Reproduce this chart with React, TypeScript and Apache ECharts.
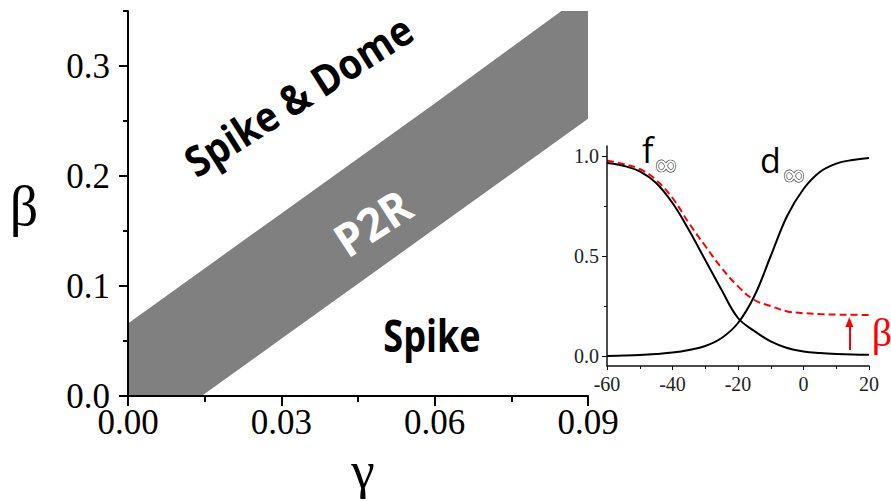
import React, { useEffect, useRef } from "react";
import * as echarts from "echarts";

// Main panel: gamma (x) vs beta (y)
const gammaTicks = [0, 0.03, 0.06, 0.09];
const gammaMinorTicks = [0.015, 0.045, 0.075];
const betaTicks = [0, 0.1, 0.2, 0.3];
const betaMinorTicks = [0.05, 0.15, 0.25, 0.35];

// P2R band boundaries [gamma, beta]
const p2rUpper: [number, number][] = [
  [0, 0.066],
  [0.03, 0.166],
  [0.06, 0.266],
  [0.0848, 0.35],
];
const p2rTopRight: [number, number] = [0.09, 0.35];
const p2rLower: [number, number][] = [
  [0.0144, 0],
  [0.03, 0.052],
  [0.06, 0.152],
  [0.09, 0.252],
];
const p2rOrigin: [number, number] = [0, 0];

// Inset: steady-state curves vs voltage (mV)
const voltage = [-60, -55, -50, -45, -40, -35, -30, -25, -20, -15, -10, -5, 0, 5, 10, 15, 20];
const fInf = [0.965, 0.951, 0.923, 0.865, 0.765, 0.63, 0.48, 0.33, 0.19, 0.125, 0.073, 0.04, 0.023, 0.015, 0.01, 0.007, 0.006];
const dInf = [0.0, 0.002, 0.005, 0.01, 0.017, 0.03, 0.05, 0.09, 0.165, 0.3, 0.5, 0.7, 0.835, 0.92, 0.962, 0.98, 0.99];
const fBeta = [0.978, 0.96, 0.935, 0.88, 0.79, 0.665, 0.55, 0.44, 0.348, 0.28, 0.25, 0.223, 0.215, 0.21, 0.207, 0.206, 0.205];
const insetXRange = [-60, 20];
const insetYRange = [-0.05, 1.05];
const insetYTicks = [0, 0.5, 1];
const insetYMinorTicks = [0.25, 0.75];
const betaArrow = { v: 14, from: 0.03, to: 0.17 };

const SERIF = '"Liberation Serif", "Times New Roman", serif';
const SANS = '"Open Sans", "Noto Sans", sans-serif';

export default function App() {
  const ref = useRef<HTMLDivElement>(null);
  useEffect(() => {
    if (!ref.current) return;
    const chart = echarts.init(ref.current, null, { renderer: "svg" });
    const polygon = [...p2rUpper, p2rTopRight, ...[...p2rLower].reverse(), p2rOrigin];
    const zip = (a: number[], b: number[]) => a.map((v, i) => [v, b[i]]);

    const option: any = {
      animation: false,
      backgroundColor: "#fff",
      grid: [
        { left: 128, right: 303, top: 11, bottom: 105 },
        { left: 607, right: 22, top: 146, bottom: 135 },
      ],
      xAxis: [
        {
          type: "value", gridIndex: 0, min: 0, max: 0.09, position: "bottom", z: 5,
          axisLine: { onZero: false, lineStyle: { color: "#000", width: 2 } },
          axisTick: { customValues: gammaTicks, length: 10, lineStyle: { color: "#000", width: 2 } },
          axisLabel: {
            customValues: gammaTicks, formatter: (v: number) => v.toFixed(2),
            fontFamily: SERIF, fontSize: 35, color: "#000", margin: 9,
          },
          splitLine: { show: false },
        },
        {
          type: "value", gridIndex: 0, min: 0, max: 0.09, position: "bottom", z: 5,
          axisLine: { show: false, onZero: false },
          axisTick: { customValues: gammaMinorTicks, length: 6, lineStyle: { color: "#000", width: 2 } },
          axisLabel: { show: false },
          splitLine: { show: false },
        },
        {
          type: "value", gridIndex: 1, min: insetXRange[0], max: insetXRange[1], interval: 20, position: "bottom", z: 5,
          axisLine: { onZero: false, lineStyle: { color: "#111", width: 1.5 } },
          axisTick: { length: 4, lineStyle: { color: "#111", width: 1 } },
          minorTick: { show: true, splitNumber: 2, length: 3, lineStyle: { color: "#111", width: 1 } },
          axisLabel: { fontFamily: SERIF, fontSize: 20, color: "#222", margin: 8 },
          splitLine: { show: false },
        },
      ],
      yAxis: [
        {
          type: "value", gridIndex: 0, min: 0, max: 0.35, position: "left", z: 5,
          axisLine: { show: true, onZero: false, lineStyle: { color: "#000", width: 2 } },
          axisTick: { show: true, customValues: betaTicks, length: 9, lineStyle: { color: "#000", width: 2 } },
          axisLabel: {
            customValues: betaTicks, formatter: (v: number) => v.toFixed(1),
            fontFamily: SERIF, fontSize: 35, color: "#000", margin: 18,
          },
          splitLine: { show: false },
        },
        {
          type: "value", gridIndex: 0, min: 0, max: 0.35, position: "left", z: 5,
          axisLine: { show: false, onZero: false },
          axisTick: { show: true, customValues: betaMinorTicks, length: 5, lineStyle: { color: "#000", width: 2 } },
          axisLabel: { show: false },
          splitLine: { show: false },
        },
        {
          type: "value", gridIndex: 1, min: insetYRange[0], max: insetYRange[1], position: "left", z: 5,
          axisLine: { show: true, onZero: false, lineStyle: { color: "#111", width: 1.5 } },
          axisTick: { show: true, customValues: insetYTicks, length: 5, lineStyle: { color: "#111", width: 1 } },
          axisLabel: {
            customValues: insetYTicks, formatter: (v: number) => v.toFixed(1),
            fontFamily: SERIF, fontSize: 20, color: "#222", margin: 8,
          },
          splitLine: { show: false },
        },
        {
          type: "value", gridIndex: 1, min: insetYRange[0], max: insetYRange[1], position: "left", z: 5,
          axisLine: { show: false, onZero: false },
          axisTick: { show: true, customValues: insetYMinorTicks, length: 3, lineStyle: { color: "#111", width: 1 } },
          axisLabel: { show: false },
          splitLine: { show: false },
        },
      ],
      series: [
        {
          type: "custom", xAxisIndex: 0, yAxisIndex: 0, silent: true, clip: false, z: 1,
          data: [p2rOrigin],
          renderItem: (_params: any, api: any) => ({
            type: "polygon",
            shape: { points: polygon.map((p) => api.coord(p)) },
            style: { fill: "#808080" },
          }),
        },
        {
          type: "line", xAxisIndex: 2, yAxisIndex: 2, data: zip(voltage, fBeta), smooth: 0.4,
          showSymbol: false, z: 2, clip: false,
          lineStyle: { color: "#ff0000", width: 2, type: [7, 4] },
          markLine: {
            silent: true, symbol: ["none", "triangle"], symbolSize: [8, 10],
            lineStyle: { color: "#ff0000", width: 2, type: "solid" },
            label: { show: false },
            data: [[{ coord: [betaArrow.v, betaArrow.from] }, { coord: [betaArrow.v, betaArrow.to] }]],
          },
        },
        {
          type: "line", xAxisIndex: 2, yAxisIndex: 2, data: zip(voltage, fInf), smooth: 0.4,
          showSymbol: false, z: 3, lineStyle: { color: "#000", width: 2 },
        },
        {
          type: "line", xAxisIndex: 2, yAxisIndex: 2, data: zip(voltage, dInf), smooth: 0.4,
          showSymbol: false, z: 3, lineStyle: { color: "#000", width: 2 },
        },
      ],
      graphic: [
        { type: "text", x: 24, y: 206, style: { text: "β", font: `56px ${SERIF}`, fill: "#000", align: "center", verticalAlign: "middle" } },
        { type: "text", x: 363, y: 470, style: { text: "γ", font: `53px ${SERIF}`, fill: "#000", align: "center", verticalAlign: "middle" } },
        {
          type: "text", x: 298, y: 95, rotation: (32.5 * Math.PI) / 180, scaleX: 0.9, z: 10,
          style: { text: "Spike & Dome", font: `bold 42px ${SANS}`, fill: "#000", align: "center", verticalAlign: "middle" },
        },
        {
          type: "text", x: 372, y: 222, rotation: (33 * Math.PI) / 180, scaleX: 0.95, z: 10,
          style: { text: "P2R", font: `bold 46px ${SANS}`, fill: "#fff", align: "center", verticalAlign: "middle" },
        },
        {
          type: "text", x: 432, y: 335, scaleX: 0.82, z: 10,
          style: { text: "Spike", font: `bold 44px ${SANS}`, fill: "#000", align: "center", verticalAlign: "middle" },
        },
        { type: "text", x: 642, y: 150, z: 10, style: { text: "f", font: `34px ${SANS}`, fill: "#000", align: "left", verticalAlign: "middle" } },
        { type: "text", x: 666, y: 164, z: 10, style: { text: "∞", font: `30px "DejaVu Sans"`, fill: "#fff", stroke: "#222", lineWidth: 1.2, align: "center", verticalAlign: "middle" } },
        { type: "text", x: 760, y: 160, z: 10, style: { text: "d", font: `34px ${SANS}`, fill: "#000", align: "left", verticalAlign: "middle" } },
        { type: "text", x: 794, y: 174, z: 10, style: { text: "∞", font: `30px "DejaVu Sans"`, fill: "#fff", stroke: "#222", lineWidth: 1.2, align: "center", verticalAlign: "middle" } },
        { type: "text", x: 882, y: 332, z: 10, style: { text: "β", font: `40px ${SERIF}`, fill: "#ff0000", align: "center", verticalAlign: "middle" } },
      ],
    };
    chart.setOption(option);
    return () => chart.dispose();
  }, []);
  return <div ref={ref} style={{ position: "absolute", left: 0, top: 0, width: 891, height: 501 }} />;
}
